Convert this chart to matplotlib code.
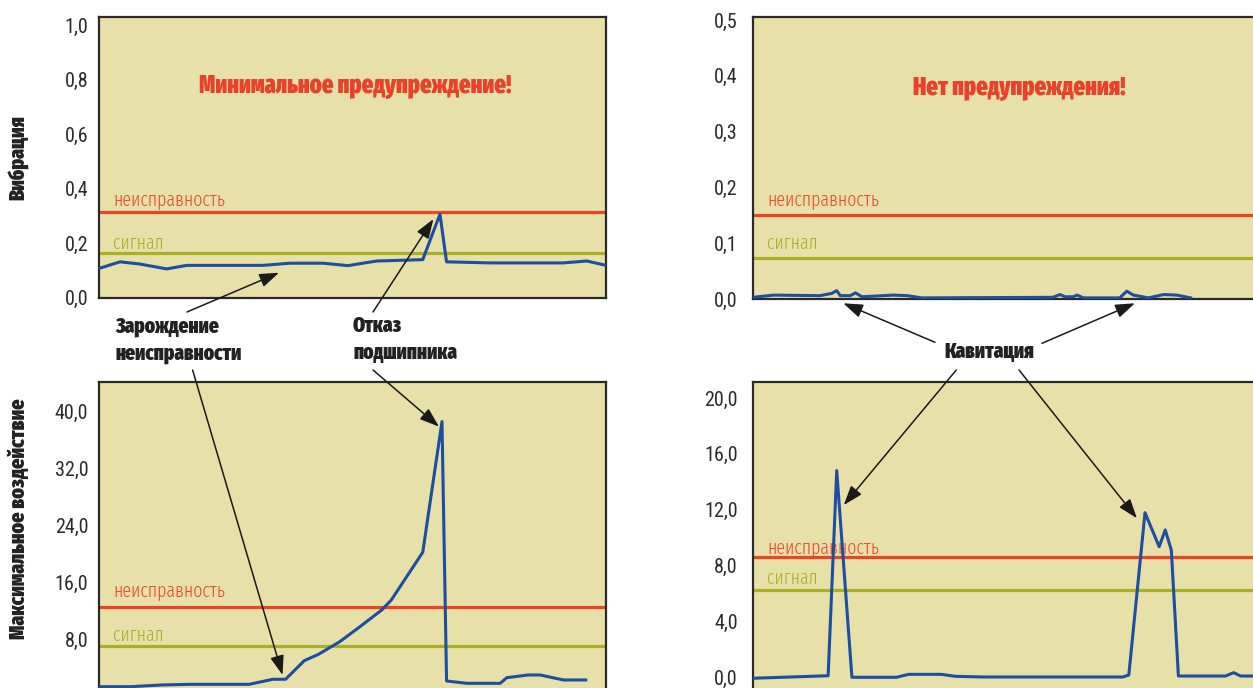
import numpy as np
import matplotlib
matplotlib.use("Agg")
import matplotlib.pyplot as plt

plt.rcParams['font.family'] = ['Roboto Condensed', 'DejaVu Sans']
HEAVY = ['Fira Sans Extra Condensed', 'DejaVu Sans']

# =============================================================================
# Data (x in arbitrary time units 0..100)
# =============================================================================
vib_left_x = [0, 4.1, 8.0, 13.3, 17.3, 32.3, 37.7, 44.2, 49.1, 54.8, 63.9, 67.3, 68.6, 77.2, 91.6, 96.3, 99.9]
vib_left_y = [0.107, 0.131, 0.123, 0.105, 0.118, 0.118, 0.126, 0.126, 0.117, 0.134, 0.139, 0.306, 0.131, 0.127, 0.127, 0.134, 0.119]

impact_left_x = [0, 6.2, 12.4, 17.9, 29.6, 34.3, 36.8, 40.5, 43.3, 47.5, 51.5, 55.8, 57.7, 63.9, 67.7, 68.6,
                 72.6, 79.2, 80.5, 84.7, 87.1, 91.7, 96.1]
impact_left_y = [1.42, 1.42, 1.66, 1.75, 1.75, 2.46, 2.46, 5.07, 5.96, 7.73, 9.84, 12.18, 13.59, 20.28, 38.61, 2.22,
                 1.89, 1.89, 2.68, 3.06, 3.06, 2.36, 2.36]

vib_right_x = [0, 4.0, 13.2, 15.5, 16.5, 17.2, 19.2, 20.2, 21.5, 27.7, 30.4, 33.3, 59.2, 60.6, 61.6, 63.2, 64.0,
               65.2, 72.4, 73.8, 75.1, 78.1, 81.1, 83.7, 86.4]
vib_right_y = [0.003, 0.007, 0.006, 0.010, 0.015, 0.006, 0.006, 0.011, 0.004, 0.007, 0.006, 0.002, 0.003, 0.008,
               0.004, 0.004, 0.007, 0.002, 0.002, 0.014, 0.007, 0.002, 0.008, 0.007, 0.002]

impact_right_x = [0, 14.8, 16.5, 19.5, 28.3, 30.7, 37.1, 39.9, 45.4, 73.0, 74.2, 77.4, 80.2, 81.4, 82.6, 84.0,
                  93.3, 94.9, 96.3, 98.7, 100]
impact_right_y = [-0.09, 0.09, 14.8, -0.02, -0.02, 0.19, 0.19, 0.05, 0.0, 0.0, 0.14, 11.78, 9.34, 10.54, 9.1,
                  0.07, 0.07, 0.31, 0.07, 0.07, 0.07]

# thresholds: TL, TR, BL, BR
fault_level = [0.314, 0.150, 12.65, 8.58]
signal_level = [0.165, 0.074, 7.17, 6.24]
fault_label_y = [0.362, 0.179, 15.0, 9.3]
signal_label_y = [0.199, 0.100, 8.7, 7.08]

ylims = [(0, 1.029), (0, 0.505), (0, 44.2), (-1.42, 21.17)]
yticks = [[0, 0.2, 0.4, 0.6, 0.8, 1.0],
          [0, 0.1, 0.2, 0.3, 0.4, 0.5],
          [8, 16, 24, 32, 40],
          [0, 4, 8, 12, 16, 20]]
warnings = ["Минимальное предупреждение!", "Нет предупреждения!"]

# =============================================================================
# Style
# =============================================================================
BG = '#e8e0a9'
BLUE = '#1c4ea1'
RED = '#ee4424'
GREEN = '#a8b025'
SPINE = '#2a2a2a'
TXT = '#2b2b2b'

W, H = 1253, 688


def fxy(px, py):
    return px / W, 1 - py / H


fig = plt.figure(figsize=(W / 100, H / 100), dpi=100)

# axes rectangles in pixels: left, top, right, bottom
rects = [(99.3, 17.3, 605.5, 297.5),
         (753.2, 17.3, 1259.4, 299.0),
         (99.3, 381.7, 605.5, 696.8),
         (753.2, 381.7, 1259.4, 696.8)]
series = [(vib_left_x, vib_left_y), (vib_right_x, vib_right_y),
          (impact_left_x, impact_left_y), (impact_right_x, impact_right_y)]
pads = [8, 11, 8, 11]

axes = []
for i, (l, t, r, b) in enumerate(rects):
    ax = fig.add_axes([l / W, 1 - b / H, (r - l) / W, (b - t) / H])
    ax.set_facecolor(BG)
    ax.set_xlim(0, 100)
    ax.set_ylim(*ylims[i])
    ax.set_xticks([])
    ax.set_yticks(yticks[i])
    ax.set_yticklabels([f"{v:.1f}".replace('.', ',') for v in yticks[i]])
    ax.tick_params(axis='y', length=0, pad=pads[i], labelsize=14.5, labelcolor=TXT)
    for s in ax.spines.values():
        s.set_color(SPINE)
        s.set_linewidth(1.6)
    ax.axhline(fault_level[i], color=RED, lw=2.3, zorder=2)
    ax.axhline(signal_level[i], color=GREEN, lw=2.3, zorder=2)
    ax.text(0.028, fault_label_y[i], "неисправность", color='#ea4b2c', fontsize=14, family=HEAVY,
            fontweight=300, transform=ax.get_yaxis_transform(), va='center', ha='left', zorder=3)
    ax.text(0.028, signal_label_y[i], "сигнал", color='#aab02c', fontsize=14, family=HEAVY,
            fontweight=300, transform=ax.get_yaxis_transform(), va='center', ha='left', zorder=3)
    ax.plot(series[i][0], series[i][1], color=BLUE, lw=2.2, zorder=4)
    axes.append(ax)

ax_tl, ax_tr, ax_bl, ax_br = axes

# warnings inside the top panels
fig.text(*fxy(355, 87), warnings[0], color='#e9412a', fontsize=17.5, fontweight=900, family=HEAVY,
         ha='center', va='center')
fig.text(*fxy(1019, 89), warnings[1], color='#e9412a', fontsize=17.5, fontweight=900, family=HEAVY,
         ha='center', va='center')

# y axis titles
fig.text(*fxy(19, 158), "Вибрация", rotation=90, fontsize=15.5, fontweight=900, family=HEAVY,
         color='#222222', ha='center', va='center')
fig.text(*fxy(19, 519), "Максимальное воздействие", rotation=90, fontsize=15.5, fontweight=900,
         family=HEAVY, color='#222222', ha='center', va='center')

# annotation captions
captions = [(115, 326, "Зарождение", 'left'), (115, 353, "неисправности", 'left'),
            (353, 326, "Отказ", 'left'), (353, 353, "подшипника", 'left'),
            (989, 352, "Кавитация", 'center')]
for px, py, s, ha in captions:
    fig.text(*fxy(px, py), s, fontsize=15, fontweight=900, family=HEAVY, color='#222222',
             ha=ha, va='center')

arrow = dict(arrowstyle='-|>,head_length=0.85,head_width=0.3', color='#1a1a1a', lw=1.1,
             shrinkA=0, shrinkB=0, mutation_scale=14)


def point(ax, head, tail_px):
    ax.annotate('', xy=head, xycoords='data', xytext=fxy(*tail_px), textcoords='figure fraction',
                arrowprops=arrow, annotation_clip=False, zorder=6)


point(ax_tl, (35.5, 0.091), (187, 312))
point(ax_tl, (66.0, 0.288), (373, 312))
point(ax_bl, (36.2, 3.06), (192.6, 370))
point(ax_bl, (67.1, 37.9), (373, 370))
point(ax_tr, (17.8, -0.0077), (935, 342.3))
point(ax_tr, (75.4, -0.0077), (1042, 343.3))
point(ax_br, (17.9, 12.33), (956.3, 370))
point(ax_br, (75.8, 11.38), (1019, 370))

fig.savefig("out.png", dpi=100)
